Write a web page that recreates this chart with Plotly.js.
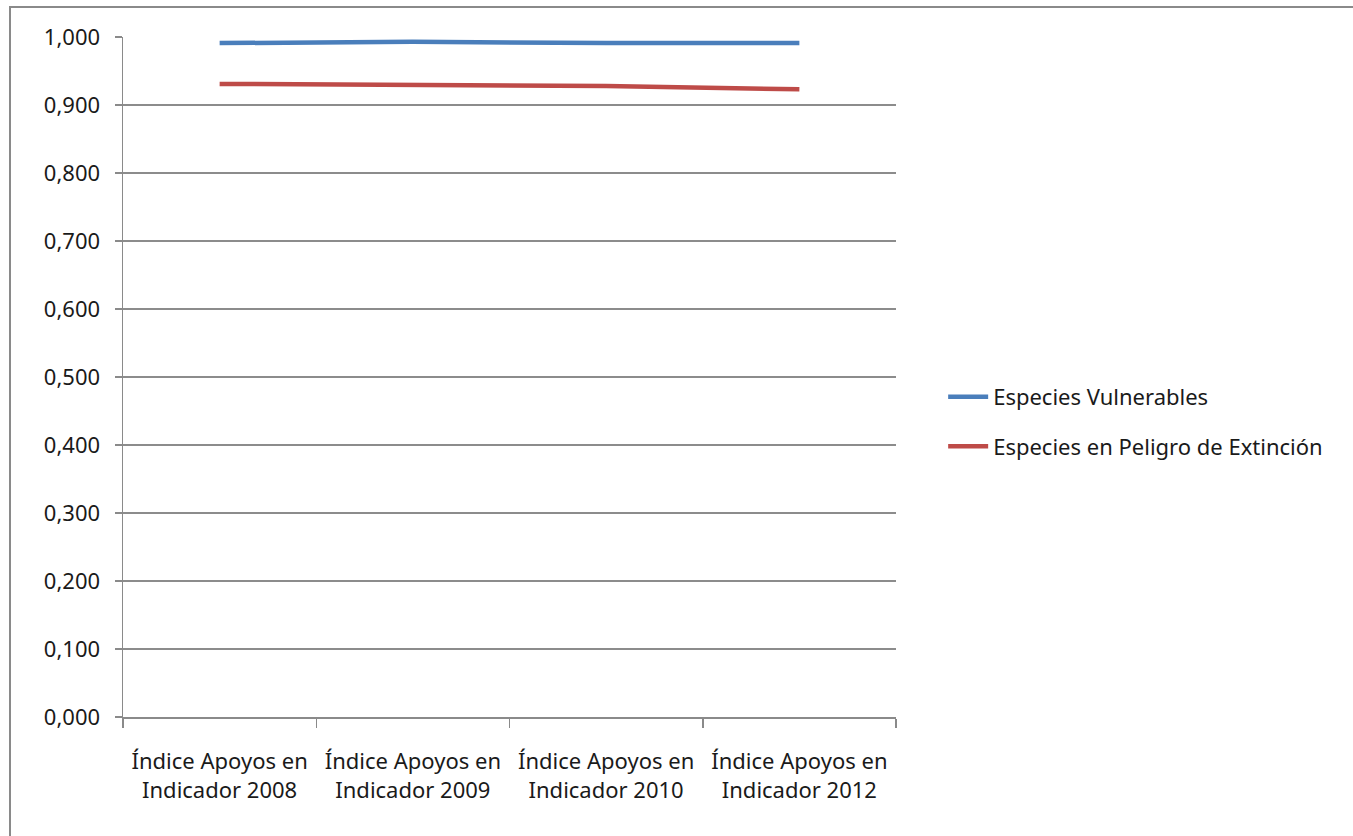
<!DOCTYPE html>
<html>
<head>
<meta charset="utf-8">
<script src="https://cdn.plot.ly/plotly-3.0.1.min.js"></script>
<style>
  html, body { margin: 0; padding: 0; background: #ffffff; }
  #frame { position: absolute; left: 9px; top: 6px; width: 1400px; height: 900px;
           border: 2px solid #8a8a8a; box-sizing: border-box; }
  #chart { position: absolute; left: 0; top: 0; width: 1353px; height: 836px; }
</style>
</head>
<body>
<div id="frame"></div>
<div id="chart"></div>
<script>
// Categories (two-line labels) and index values per series
const categories = [
  "Índice Apoyos en<br>Indicador 2008",
  "Índice Apoyos en<br>Indicador 2009",
  "Índice Apoyos en<br>Indicador 2010",
  "Índice Apoyos en<br>Indicador 2012"
];
const vulnerables = [0.991, 0.993, 0.991, 0.991];
const peligroExtincion = [0.931, 0.930, 0.928, 0.923];
const yTicks = [0, 0.1, 0.2, 0.3, 0.4, 0.5, 0.6, 0.7, 0.8, 0.9, 1.0];

const FONT = "Noto Sans, Open Sans, sans-serif";
const FSIZE = 22;

const traces = [
  {
    x: categories, y: vulnerables, name: "Especies Vulnerables",
    legendgroup: "v",
    type: "scatter", mode: "lines",
    line: { color: "#4a7ebb", width: 4.5 }
  },
  {
    x: categories, y: peligroExtincion, name: "Especies en Peligro de Extinción",
    legendgroup: "p",
    type: "scatter", mode: "lines",
    line: { color: "#be4b48", width: 4.5 }
  }
];

const layout = {
  width: 1353, height: 836,
  margin: { l: 123, r: 457, t: 37, b: 119, pad: 0 },
  paper_bgcolor: "rgba(0,0,0,0)",
  plot_bgcolor: "rgba(0,0,0,0)",
  separators: ",.",
  font: { family: FONT, size: FSIZE, color: "#1a1a1a" },
  showlegend: true,
  legend: {
    x: 1.061, y: 0.434, xanchor: "left", yanchor: "middle",
    font: { family: FONT, size: FSIZE, color: "#1a1a1a" },
    itemwidth: 40, tracegroupgap: 18,
    bgcolor: "rgba(0,0,0,0)"
  },
  xaxis: {
    type: "category",
    range: [-0.5, 3.5],
    tickson: "boundaries",
    ticks: "outside", ticklen: 9, tickwidth: 1.5, tickcolor: "#8a8a8a",
    ticklabelstandoff: 24,
    showline: true, linecolor: "#8a8a8a", linewidth: 1.5,
    showgrid: false, zeroline: false,
    tickfont: { family: FONT, size: FSIZE, color: "#1a1a1a" },
    automargin: false
  },
  yaxis: {
    range: [0, 1.0],
    tickvals: yTicks,
    tickformat: ".3f",
    ticks: "outside", ticklen: 7, tickwidth: 1.5, tickcolor: "#8a8a8a",
    ticklabelstandoff: 10,
    showline: true, linecolor: "#8a8a8a", linewidth: 1.5,
    showgrid: true, gridcolor: "#8c8c8c", gridwidth: 1.3,
    zeroline: false,
    tickfont: { family: FONT, size: FSIZE, color: "#1a1a1a" },
    automargin: false
  }
};

Plotly.newPlot("chart", traces, layout, { displayModeBar: false, staticPlot: true });
</script>
</body>
</html>
